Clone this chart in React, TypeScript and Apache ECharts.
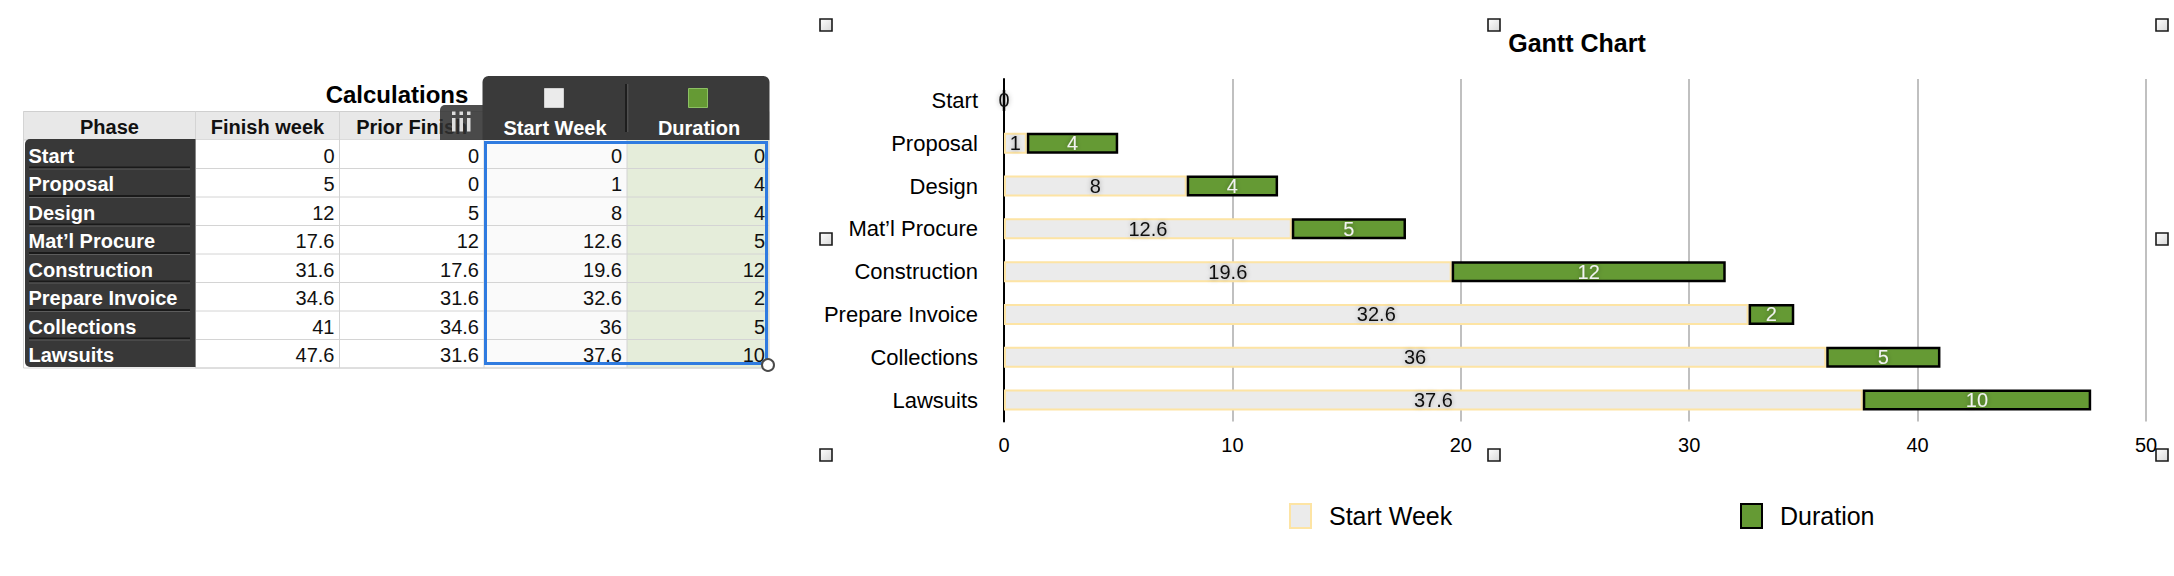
import React, { useEffect, useRef } from "react";
import * as echarts from "echarts";

// ---- data ----
const phases = ["Start", "Proposal", "Design", "Mat’l Procure", "Construction", "Prepare Invoice", "Collections", "Lawsuits"];
const finishWeek = [0, 5, 12, 17.6, 31.6, 34.6, 41, 47.6];
const priorFinish = [0, 0, 5, 12, 17.6, 31.6, 34.6, 31.6];
const startWeek = [0, 1, 8, 12.6, 19.6, 32.6, 36, 37.6];
const duration = [0, 4, 4, 5, 12, 2, 5, 10];
const tableHeaders = ["Phase", "Finish week", "Prior Finish", "Start Week", "Duration"];
const tableTitle = "Calculations";
const chartTitle = "Gantt Chart";
const seriesNames = ["Start Week", "Duration"];

const FONT = "'Liberation Sans', Arial, Helvetica, sans-serif";

function buildTable(): any[] {
  const els: any[] = [];
  const colX = [23.5, 195.5, 339.5, 484, 627, 769];
  const headTop = 111.5;
  const rowTop = 140;
  const rowH = 28.5;
  const n = phases.length;
  const bottom = rowTop + rowH * n;

  els.push({
    type: "text", x: 397, y: 94,
    style: { text: tableTitle, font: `bold 24px ${FONT}`, fill: "#000", align: "center", verticalAlign: "middle" },
  });
  // header bg
  els.push({ type: "rect", shape: { x: colX[0], y: headTop, width: colX[3] - colX[0], height: rowTop - headTop },
    style: { fill: "#e8e8e8", stroke: "#cfcfcf", lineWidth: 1 } });
  // column backgrounds
  const bgs = ["#ffffff", "#ffffff", "#ffffff", "#fafafa", "#e5edda"];
  for (let c = 1; c < 5; c++) {
    els.push({ type: "rect", shape: { x: colX[c], y: rowTop, width: colX[c + 1] - colX[c], height: bottom - rowTop },
      style: { fill: bgs[c] } });
  }
  // grid lines
  for (let i = 1; i <= n; i++) {
    const y = rowTop + rowH * i;
    els.push({ type: "line", shape: { x1: colX[1], y1: y, x2: colX[5], y2: y }, style: { stroke: "#d4d4d4", lineWidth: 1 } });
  }
  for (let c = 1; c < 6; c++) {
    els.push({ type: "line", shape: { x1: colX[c], y1: headTop, x2: colX[c], y2: bottom }, style: { stroke: "#d4d4d4", lineWidth: 1 } });
  }
  els.push({ type: "line", shape: { x1: colX[0], y1: bottom, x2: colX[5], y2: bottom }, style: { stroke: "#d4d4d4", lineWidth: 1 } });
  els.push({ type: "line", shape: { x1: colX[0], y1: headTop, x2: colX[0], y2: bottom }, style: { stroke: "#d4d4d4", lineWidth: 1 } });

  // header texts (grey part)
  for (let c = 0; c < 3; c++) {
    els.push({ type: "text", x: (colX[c] + colX[c + 1]) / 2, y: 126.5,
      style: { text: tableHeaders[c], font: `bold 20px ${FONT}`, fill: "#111", align: "center", verticalAlign: "middle" } });
  }

  // phase column dark
  els.push({ type: "rect", shape: { x: 25, y: 139, width: 170.5, height: 228, r: [5, 0, 0, 5] }, style: { fill: "#383838" } });
  for (let i = 1; i < n; i++) {
    const y = rowTop + rowH * i;
    els.push({ type: "line", shape: { x1: 29, y1: y - 1, x2: 190, y2: y - 1 }, style: { stroke: "#1a1a1a", lineWidth: 2 } });
    els.push({ type: "line", shape: { x1: 29, y1: y + 0.5, x2: 190, y2: y + 0.5 }, style: { stroke: "#5c5c5c", lineWidth: 1 } });
  }
  phases.forEach((p, i) => {
    const cy = rowTop + rowH * i + rowH / 2 + 1.5;
    els.push({ type: "text", x: 28.5, y: cy,
      style: { text: p, font: `bold 20px ${FONT}`, fill: "#ffffff", align: "left", verticalAlign: "middle" } });
  });

  // numbers
  const cols = [finishWeek, priorFinish, startWeek, duration];
  const rights = [334.5, 479, 622, 765];
  cols.forEach((arr, k) => {
    arr.forEach((v, i) => {
      const cy = rowTop + rowH * i + rowH / 2 + 1.5;
      els.push({ type: "text", x: rights[k], y: cy,
        style: { text: String(v), font: `20px ${FONT}`, fill: "#111", align: "right", verticalAlign: "middle" } });
    });
  });

  // iii box (semi transparent)
  els.push({ type: "rect", shape: { x: 440, y: 105, width: 43, height: 35, r: [5, 0, 0, 0] }, style: { fill: "rgba(48,48,48,0.86)" } });
  [452, 459.5, 467].forEach((x) => {
    els.push({ type: "rect", shape: { x, y: 111.5, width: 3.5, height: 3.5 }, style: { fill: "#dedede" } });
    els.push({ type: "rect", shape: { x, y: 118, width: 3.5, height: 13.5 }, style: { fill: "#dedede" } });
  });

  // dark header over Start Week / Duration
  els.push({ type: "rect", shape: { x: 482.5, y: 76, width: 287, height: 64, r: [6, 6, 0, 0] }, style: { fill: "#3a3a3a" } });
  els.push({ type: "line", shape: { x1: 626, y1: 84, x2: 626, y2: 132 }, style: { stroke: "#1e1e1e", lineWidth: 2 } });
  els.push({ type: "line", shape: { x1: 627.8, y1: 84, x2: 627.8, y2: 132 }, style: { stroke: "#5a5a5a", lineWidth: 1 } });
  els.push({ type: "rect", shape: { x: 544.5, y: 88.5, width: 19, height: 19 }, style: { fill: "#ebebeb", stroke: "#d0d0d0", lineWidth: 1 } });
  els.push({ type: "rect", shape: { x: 688.5, y: 88.5, width: 19, height: 19 }, style: { fill: "#659a34", stroke: "#8cc063", lineWidth: 1 } });
  els.push({ type: "text", x: 555, y: 127.5,
    style: { text: tableHeaders[3], font: `bold 20px ${FONT}`, fill: "#ffffff", align: "center", verticalAlign: "middle" } });
  els.push({ type: "text", x: 699, y: 127.5,
    style: { text: tableHeaders[4], font: `bold 20px ${FONT}`, fill: "#ffffff", align: "center", verticalAlign: "middle" } });

  // selection border
  els.push({ type: "rect", shape: { x: 485.5, y: 142.5, width: 281, height: 221 }, style: { fill: "none", stroke: "#2f7be0", lineWidth: 3 } });
  els.push({ type: "circle", shape: { cx: 768, cy: 365, r: 6 }, style: { fill: "#ffffff", stroke: "#4a4a4a", lineWidth: 2 } });

  // chart selection handles
  const hx = [820, 1488, 2156];
  const hy = [19, 233, 449];
  hx.forEach((x, a) => {
    hy.forEach((y, b) => {
      if (a === 1 && b === 1) return;
      els.push({ type: "rect", shape: { x, y, width: 12, height: 12 },
        style: {
          fill: new echarts.graphic.LinearGradient(0, 0, 1, 1, [{ offset: 0, color: "#ffffff" }, { offset: 1, color: "#d8d8d8" }]),
          stroke: "#1a1a1a", lineWidth: 1.6,
        } });
    });
  });
  return els;
}

export default function App() {
  const ref = useRef<HTMLDivElement>(null);
  useEffect(() => {
    document.body.style.margin = "0";
    if (!ref.current) return;
    const chart = echarts.init(ref.current, null, { renderer: "svg" });
    const labelShadow = { textShadowColor: "rgba(0,0,0,0.35)", textShadowBlur: 5 };
    chart.setOption({
      animation: false,
      backgroundColor: "#ffffff",
      textStyle: { fontFamily: FONT },
      title: {
        text: chartTitle, left: 1572, top: 25, textAlign: "center",
        textStyle: { fontSize: 25, fontWeight: "bold", color: "#000", fontFamily: FONT },
      },
      grid: { left: 1004, right: 28, top: 79, bottom: 154.5, containLabel: false },
      xAxis: {
        type: "value", min: 0, max: 50, interval: 10,
        axisLine: { show: false }, axisTick: { show: false },
        splitLine: { lineStyle: { color: "#ababab", width: 1.5 } },
        axisLabel: { fontSize: 20, color: "#000", margin: 13, fontFamily: FONT },
      },
      yAxis: {
        type: "category", inverse: true, data: phases,
        axisLine: { lineStyle: { color: "#000", width: 2 } },
        axisTick: { show: false },
        axisLabel: { fontSize: 22, color: "#000", margin: 26, fontFamily: FONT },
      },
      legend: [
        {
          data: [seriesNames[0]], left: 1284, top: 498, itemWidth: 21, itemHeight: 24, icon: "rect",
          itemStyle: { color: "#ebebeb", borderColor: "#fde4a4", borderWidth: 2 },
          textStyle: { fontSize: 25, color: "#000", fontFamily: FONT, padding: [0, 0, 0, 13] },
        },
        {
          data: [seriesNames[1]], left: 1735, top: 498, itemWidth: 21, itemHeight: 24, icon: "rect",
          itemStyle: { color: "#659a34", borderColor: "#000", borderWidth: 2 },
          textStyle: { fontSize: 25, color: "#000", fontFamily: FONT, padding: [0, 0, 0, 13] },
        },
      ],
      series: [
        {
          name: seriesNames[0], type: "bar", stack: "g", data: startWeek, barWidth: 21,
          itemStyle: { color: "#ebebeb", borderColor: "#fde4a4", borderWidth: 2 },
          label: { show: true, position: "inside", color: "#111", fontSize: 20, fontFamily: FONT, ...labelShadow },
        },
        {
          name: seriesNames[1], type: "bar", stack: "g", data: duration, barWidth: 21,
          itemStyle: { color: "#659a34", borderColor: "#000", borderWidth: 2.5 },
          label: {
            show: true, position: "inside", color: "#f2f2f2", fontSize: 20, fontFamily: FONT,
            formatter: (p: any) => (p.value === 0 ? "" : String(p.value)), ...labelShadow,
          },
        },
      ],
      graphic: { elements: buildTable() },
    });
    return () => chart.dispose();
  }, []);
  return <div ref={ref} style={{ width: 2174, height: 576 }} />;
}
